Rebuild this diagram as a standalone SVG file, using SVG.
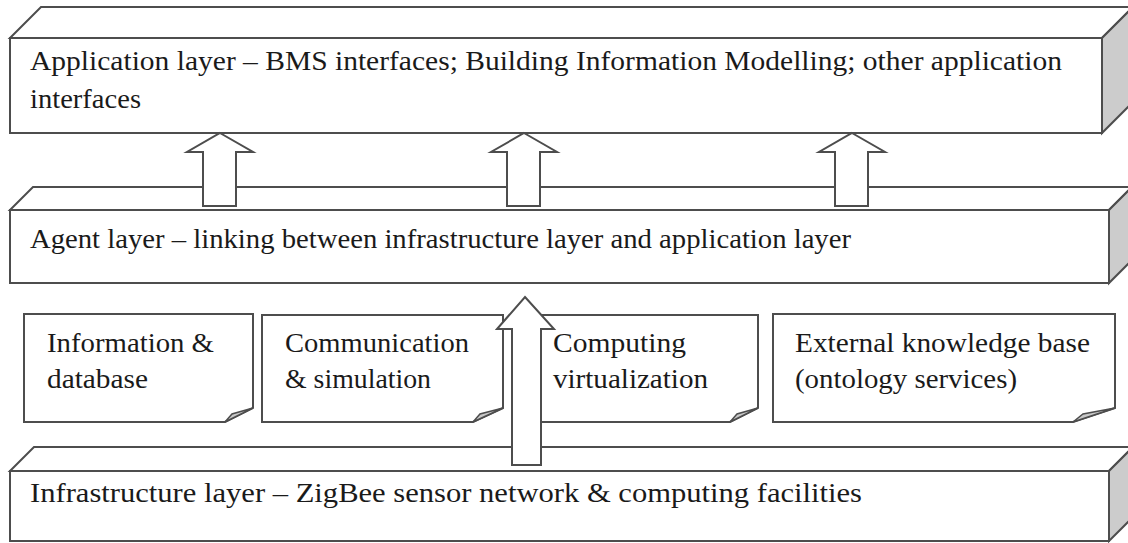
<svg xmlns="http://www.w3.org/2000/svg" width="1128" height="543" viewBox="0 0 1128 543">
<style>
.ln{fill:#fff;stroke:#4d4d4d;stroke-width:2;stroke-linejoin:miter}
.side{fill:#cccccc;stroke:#4d4d4d;stroke-width:2}
.t{font-family:'Liberation Serif','DejaVu Serif','Times New Roman',serif;font-size:27px;fill:#1a1a1a}
.flap{fill:#c8c8c8;stroke:#4d4d4d;stroke-width:1.5}
</style>
<rect width="1128" height="543" fill="#fff"/>
<g id="application-layer">
<polygon class="ln" points="10,38 41,7 1133,7 1102,38"/>
<polygon class="side" points="1102,38 1133,7 1133,102 1102,133"/>
<rect class="ln" x="10" y="38" width="1092" height="95"/>
<text class="t" x="30" y="70" textLength="1032" lengthAdjust="spacingAndGlyphs">Application layer – BMS interfaces; Building Information Modelling; other application</text>
<text class="t" x="30" y="108" textLength="111" lengthAdjust="spacingAndGlyphs">interfaces</text>
</g>
<g id="agent-layer">
<polygon class="ln" points="10,210 33,187 1132,187 1109,210"/>
<polygon class="side" points="1109,210 1132,187 1132,260 1109,283"/>
<rect class="ln" x="10" y="210" width="1099" height="73"/>
<text class="t" x="30" y="248" textLength="821" lengthAdjust="spacingAndGlyphs">Agent layer – linking between infrastructure layer and application layer</text>
</g>
<g id="infrastructure-layer">
<polygon class="ln" points="10,471 34,447 1133,447 1109,471"/>
<polygon class="side" points="1109,471 1133,447 1133,517 1109,541"/>
<rect class="ln" x="10" y="471" width="1099" height="70"/>
<text class="t" x="30" y="502" textLength="832" lengthAdjust="spacingAndGlyphs">Infrastructure layer – ZigBee sensor network &amp; computing facilities</text>
</g>
<g id="note-information">
<path class="ln" d="M24,314 H253 V408 L225,422 H24 Z"/>
<polygon class="flap" points="225,422 232,414 253,408"/>
<text class="t" x="47" y="352" textLength="167" lengthAdjust="spacingAndGlyphs">Information &amp;</text>
<text class="t" x="47" y="388" textLength="101" lengthAdjust="spacingAndGlyphs">database</text>
</g>
<g id="note-communication">
<path class="ln" d="M262,315 H503 V408 L473,422 H262 Z"/>
<polygon class="flap" points="473,422 480,414 503,408"/>
<text class="t" x="285" y="352" textLength="184" lengthAdjust="spacingAndGlyphs">Communication</text>
<text class="t" x="285" y="388" textLength="146" lengthAdjust="spacingAndGlyphs">&amp; simulation</text>
</g>
<g id="note-computing">
<path class="ln" d="M530,315 H758 V408 L730,422 H530 Z"/>
<polygon class="flap" points="730,422 737,414 758,408"/>
<text class="t" x="553" y="352" textLength="133" lengthAdjust="spacingAndGlyphs">Computing</text>
<text class="t" x="553" y="388" textLength="155" lengthAdjust="spacingAndGlyphs">virtualization</text>
</g>
<g id="note-external">
<path class="ln" d="M773,314 H1115 V408 L1073,422 H773 Z"/>
<polygon class="flap" points="1073,422 1083,414 1115,408"/>
<text class="t" x="795" y="352" textLength="295" lengthAdjust="spacingAndGlyphs">External knowledge base</text>
<text class="t" x="795" y="388" textLength="222" lengthAdjust="spacingAndGlyphs">(ontology services)</text>
</g>
<g id="connectors">
<polygon class="ln" points="220,133 253,152 236,152 236,206 203,206 203,152 187,152"/>
<polygon class="ln" points="524,133 557,152 540,152 540,206 507,206 507,152 491,152"/>
<polygon class="ln" points="852,133 885,152 868,152 868,206 835,206 835,152 819,152"/>
<polygon class="ln" points="525,297 554,329 541,329 541,465 512,465 512,329 497,329"/>
</g>
</svg>
